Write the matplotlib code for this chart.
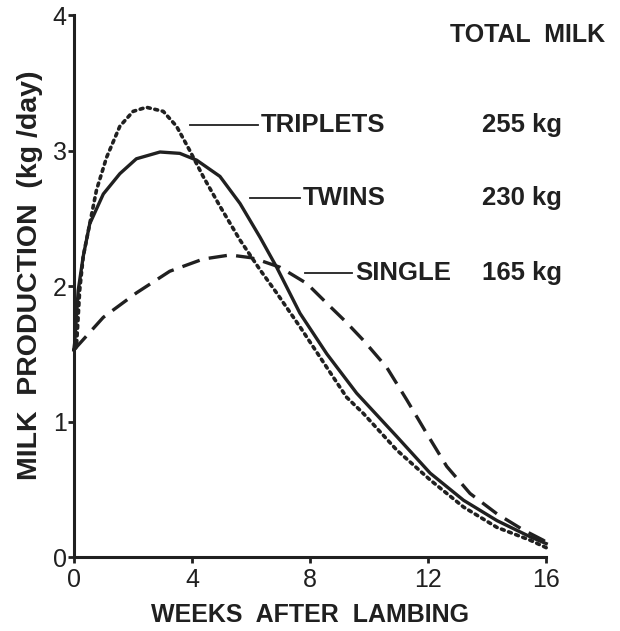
import matplotlib
matplotlib.use("Agg")
import matplotlib.pyplot as plt

plt.rcParams['font.family'] = ['Liberation Sans', 'DejaVu Sans']

# weeks after lambing / milk production (kg/day)
weeks_single = [0, 0.09, 1.0, 2.12, 3.25, 4.38, 5.29, 6.0, 6.31, 6.98, 7.89, 8.68, 9.2, 9.81,
                10.6, 11.28, 11.96, 12.63, 13.42, 14.33, 15.23, 15.9, 16]
milk_single = [1.53, 1.55, 1.77, 1.95, 2.11, 2.2, 2.23, 2.21, 2.19, 2.14, 2.02, 1.85, 1.74, 1.60,
               1.40, 1.16, 0.91, 0.67, 0.47, 0.32, 0.20, 0.125, 0.11]

weeks_twins = [0, 0.03, 0.15, 0.32, 0.54, 1.0, 1.56, 2.12, 2.92, 3.59, 4.16, 4.95, 5.63, 6.31,
               6.87, 7.66, 8.57, 9.58, 10.94, 12.07, 13.2, 14.33, 15.46, 16]
milk_twins = [1.53, 1.58, 1.97, 2.22, 2.46, 2.68, 2.83, 2.94, 2.99, 2.98, 2.93, 2.81, 2.61, 2.36,
              2.14, 1.80, 1.50, 1.21, 0.89, 0.62, 0.42, 0.27, 0.15, 0.10]

weeks_triplets = [0, 0.09, 0.2, 0.32, 0.54, 0.77, 1.11, 1.56, 2.01, 2.46, 3.03, 3.48, 3.93, 4.38,
                  4.95, 5.63, 6.31, 6.87, 7.66, 8.57, 9.24, 9.81, 10.94, 12.07, 13.2, 14.33, 15.46, 16]
milk_triplets = [1.53, 1.55, 1.97, 2.22, 2.46, 2.71, 2.95, 3.18, 3.29, 3.32, 3.29, 3.18, 3.0, 2.81,
                 2.59, 2.34, 2.12, 1.95, 1.70, 1.40, 1.18, 1.06, 0.79, 0.57, 0.37, 0.22, 0.125, 0.07]

groups = ["TRIPLETS", "TWINS", "SINGLE"]
totals = ["255 kg", "230 kg", "165 kg"]

ink = "#202020"

fig = plt.figure(figsize=(6.2, 6.31), dpi=100)
ax = fig.add_axes([0.119, 0.117, 0.762, 0.859])

ax.plot(weeks_triplets, milk_triplets, color=ink, lw=2.6, linestyle=(0, (0.8, 1.3)),
        dash_capstyle="round", clip_on=False)
ax.plot(weeks_twins, milk_twins, color=ink, lw=2.4, clip_on=False)
ax.plot(weeks_single, milk_single, color=ink, lw=2.4, linestyle=(0, (5.5, 2.8)), clip_on=False)

ax.set_xlim(0, 16)
ax.set_ylim(0, 4)
ax.set_xticks([0, 4, 8, 12, 16])
ax.set_yticks([0, 1, 2, 3, 4])
ax.spines['top'].set_visible(False)
ax.spines['right'].set_visible(False)
for s in ['left', 'bottom']:
    ax.spines[s].set_linewidth(2.2)
    ax.spines[s].set_color(ink)
ax.tick_params(direction='out', length=4, width=2, color=ink, labelsize=18,
               labelcolor=ink, pad=1)
ax.tick_params(axis='x', pad=4)

ax.set_xlabel("WEEKS  AFTER  LAMBING", fontsize=18, fontweight="bold", color=ink, labelpad=8)
ax.set_ylabel("MILK  PRODUCTION  (kg /day)", fontsize=20.5, fontweight="bold", color=ink)
ax.yaxis.set_label_coords(-0.065, 0.52)

# labels with leader lines
label_y = [3.19, 2.65, 2.10]
leader_x = [(3.93, 6.24), (5.97, 7.66), (7.83, 9.42)]
for name, total, y, (x0, x1) in zip(groups, totals, label_y, leader_x):
    ax.plot([x0, x1], [y, y], color=ink, lw=1.3)
    ax.text(x1 + 0.1, y, name, fontsize=18.5, fontweight="bold", color=ink, va="center")
    ax.text(13.83, y, total, fontsize=18.5, fontweight="bold", color=ink, va="center")

ax.text(12.75, 3.85, "TOTAL  MILK", fontsize=18, fontweight="bold", color=ink, va="center")

fig.savefig("out.png", dpi=100)
